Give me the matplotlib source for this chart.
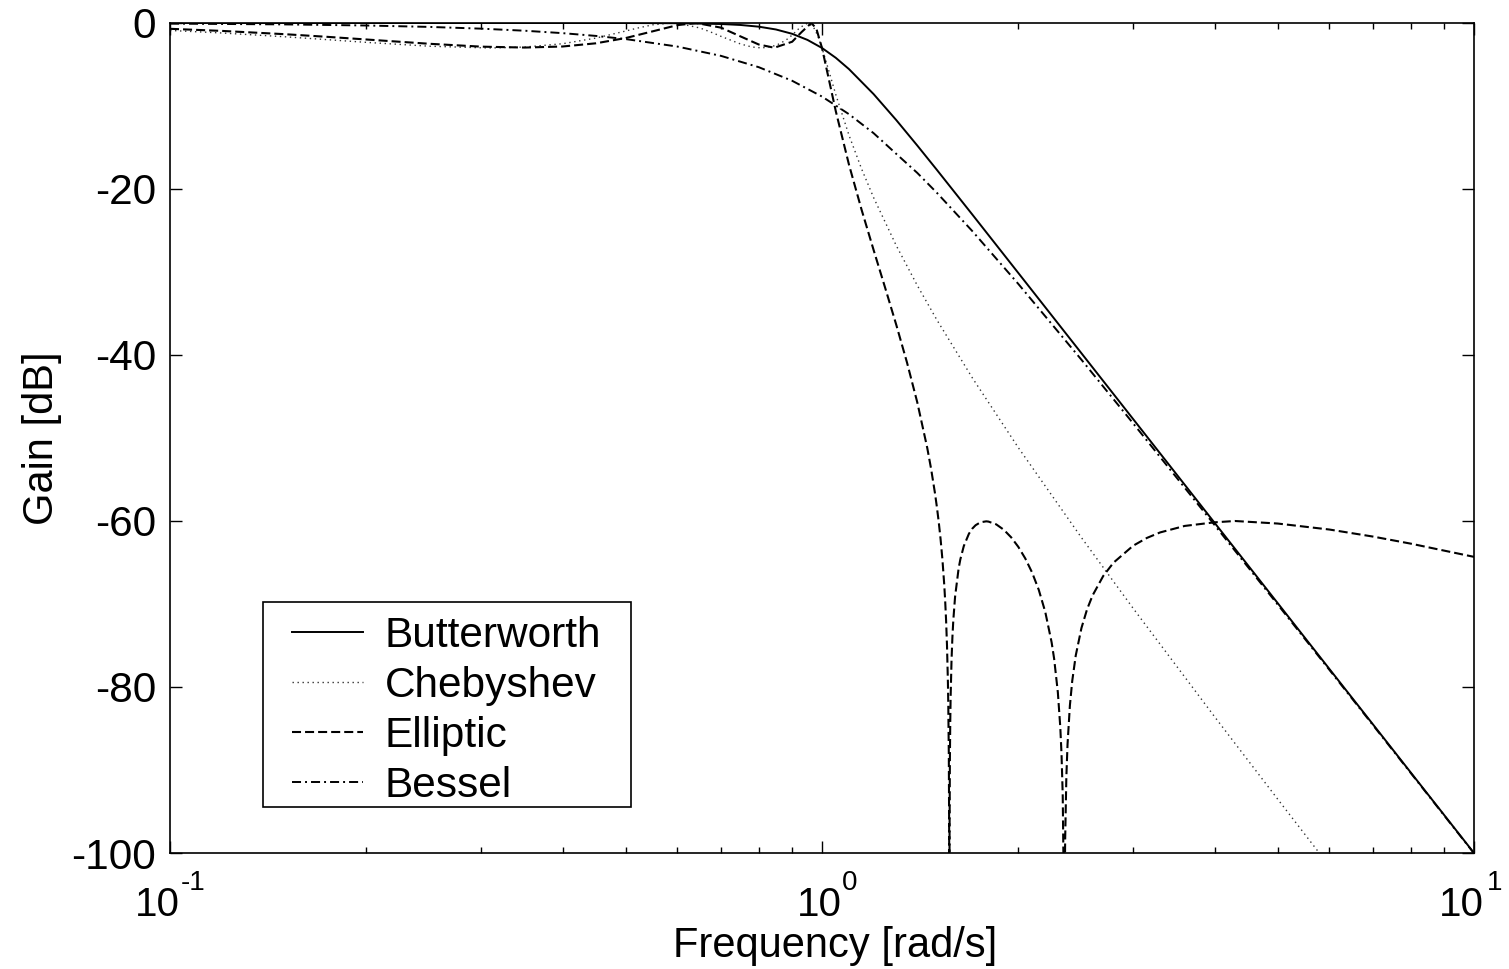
import matplotlib
matplotlib.use("Agg")
import matplotlib.pyplot as plt
from matplotlib.ticker import FixedLocator, NullFormatter, LogLocator
from matplotlib.patches import Rectangle

plt.rcParams['font.family'] = ['Liberation Sans', 'DejaVu Sans']
plt.rcParams['axes.unicode_minus'] = False
plt.rcParams['lines.scale_dashes'] = False

# ---- data ----
butter_f = [0.1, 0.2, 0.3, 0.4, 0.5, 0.6, 0.7, 0.75, 0.8, 0.85, 0.9, 0.95, 1.0, 1.05, 1.1,
            1.2, 1.3, 1.4, 1.5, 1.7, 2.0, 2.5, 3.0, 4.0, 5.0, 6.0, 7.0, 8.0, 10.0]
butter_db = [0.0, 0.0, 0.0, -0.0005, -0.004, -0.026, -0.121, -0.238, -0.443, -0.781, -1.301,
             -2.038, -3.010, -4.197, -5.556, -8.568, -11.698, -14.761, -17.684, -23.066,
             -30.11, -39.79, -47.71, -60.21, -69.90, -77.82, -84.51, -90.31, -100.0]

cheby_f = [0.1, 0.12, 0.15, 0.175, 0.2, 0.25, 0.309, 0.35, 0.4, 0.45, 0.5, 0.52, 0.55, 0.588,
           0.6, 0.65, 0.68, 0.7, 0.75, 0.78, 0.809, 0.85, 0.88, 0.9, 0.925, 0.951, 0.97,
           0.985, 1.0, 1.02, 1.05, 1.1, 1.15, 1.2, 1.3, 1.4, 1.5, 1.7, 2.0, 2.5, 3.0, 4.0,
           5.0, 6.0]
cheby_db = [-0.897, -1.201, -1.659, -2.016, -2.332, -2.797, -3.010, -2.898, -2.498, -1.818,
            -0.965, -0.630, -0.219, 0.0, -0.025, -0.601, -1.188, -1.608, -2.527, -2.887,
            -3.010, -2.711, -2.080, -1.454, -0.553, 0.0, -0.463, -1.513, -3.010, -5.268,
            -8.639, -13.522, -17.574, -21.040, -26.824, -31.617, -35.758, -42.740, -51.153,
            -62.004, -70.514, -83.573, -93.518, -101.57]

ellip_f = [0.1, 0.12, 0.15, 0.175, 0.2, 0.25, 0.3, 0.35, 0.4, 0.45, 0.5, 0.55, 0.6, 0.6416,
           0.7, 0.75, 0.8, 0.845, 0.9, 0.93, 0.9628, 0.98, 1.0, 1.02, 1.05, 1.1, 1.15, 1.2,
           1.25, 1.3, 1.35, 1.4, 1.45, 1.47, 1.49, 1.5, 1.51, 1.52, 1.53, 1.54, 1.545, 1.55,
           1.555, 1.56, 1.562, 1.565, 1.567, 1.568, 1.569, 1.571, 1.573, 1.575, 1.58, 1.585,
           1.59, 1.6, 1.62, 1.63, 1.65, 1.68, 1.7, 1.72, 1.75, 1.786, 1.8, 1.85, 1.9, 1.95,
           2.0, 2.05, 2.1, 2.15, 2.2, 2.25, 2.27, 2.3, 2.32, 2.33, 2.34, 2.35, 2.353, 2.356,
           2.36, 2.37, 2.38, 2.4, 2.42, 2.45, 2.5, 2.55, 2.6, 2.7, 2.8, 3.0, 3.15, 3.3, 3.6,
           4.0, 4.3, 5.0, 6.0, 7.0, 8.0, 10.0]
ellip_db = [-0.699, -0.951, -1.348, -1.677, -1.986, -2.504, -2.849, -2.959, -2.832, -2.446,
            -1.811, -1.003, -0.259, 0.0, -0.559, -1.616, -2.594, -2.980, -2.259, -1.108,
            0.0, -0.655, -3.012, -6.099, -10.638, -17.071, -22.496, -27.356, -31.916,
            -36.374, -40.897, -45.704, -51.172, -53.71, -56.61, -58.246, -60.07, -62.16,
            -64.629, -67.72, -69.64, -71.991, -75.03, -79.470, -82.06, -88.217, -97.89,
            -140.0, -97.84, -88.43, -84.09, -81.252, -76.787, -73.97, -71.95, -69.115,
            -65.73, -64.62, -63.019, -61.54, -60.925, -60.51, -60.156, -60.04, -60.07,
            -60.403, -61.051, -61.96, -63.106, -64.51, -66.204, -68.29, -70.953, -74.620,
            -76.59, -80.641, -84.86, -88.050, -93.06, -105.9, -140.0, -105.9, -98.54,
            -90.889, -86.93, -82.223, -79.26, -76.21, -72.890, -70.64, -68.972, -66.62,
            -65.015, -62.983, -62.04, -61.379, -60.594, -60.160, -60.0, -60.306, -61.027,
            -61.877, -62.730, -64.320]

bessel_f = [0.1, 0.15, 0.2, 0.25, 0.3, 0.35, 0.4, 0.45, 0.5, 0.6, 0.7, 0.8, 0.9, 1.0, 1.1,
            1.2, 1.3, 1.4, 1.5, 1.7, 2.0, 2.5, 3.0, 4.0, 5.0, 6.0, 7.0, 8.0, 10.0]
bessel_db = [-0.075, -0.169, -0.301, -0.471, -0.681, -0.931, -1.222, -1.556, -1.936, -2.839,
             -3.960, -5.326, -6.962, -8.862, -10.988, -13.276, -15.770, -18.060, -20.448,
             -25.064, -31.432, -40.573, -48.229, -60.48, -70.07, -77.93, -84.60, -90.375,
             -100.04]

series_names = ['Butterworth', 'Chebyshev', 'Elliptic', 'Bessel']
xtick_vals = [0.1, 1.0, 10.0]
xtick_base = ['10', '10', '10']
xtick_exp = ['-1', '0', '1']
ytick_vals = [0, -20, -40, -60, -80, -100]
ytick_labels = ['0', '-20', '-40', '-60', '-80', '-100']

# ---- figure ----
W, H = 1509, 969
fig = plt.figure(figsize=(W / 100, H / 100), dpi=100)
ax = fig.add_axes([170 / W, 1 - 853 / H, 1304 / W, 830 / H])

ax.plot(butter_f, butter_db, color='black', lw=1.4, ls='-', label=series_names[0])
ax.plot(cheby_f, cheby_db, color='#333333', lw=1.0, ls=(0, (1.0, 2.6)), label=series_names[1])
ax.plot(ellip_f, ellip_db, color='black', lw=1.5, ls=(0, (6.5, 2.9)), label=series_names[2])
ax.plot(bessel_f, bessel_db, color='black', lw=1.4, ls=(0, (6.5, 2.9, 1.4, 2.9)),
        label=series_names[3])

ax.set_xscale('log')
ax.set_xlim(0.1, 10)
ax.set_ylim(-100, 0)

ax.xaxis.set_major_locator(FixedLocator(xtick_vals))
ax.xaxis.set_major_formatter(NullFormatter())
ax.xaxis.set_minor_locator(LogLocator(base=10, subs=[2, 3, 4, 5, 6, 7, 8, 9]))
ax.xaxis.set_minor_formatter(NullFormatter())
ax.yaxis.set_major_locator(FixedLocator(ytick_vals))
ax.set_yticklabels(ytick_labels)

ax.tick_params(which='both', direction='in', top=True, right=True, width=1.0, colors='black')
ax.tick_params(which='major', length=8.6)
ax.tick_params(which='minor', length=4.3)
ax.tick_params(axis='y', which='major', labelsize=30.5, pad=10)

# x tick labels: "10" with raised exponent
base_dx = [10, 20, 10]
exp_dx = [11, 20, 13]
for v, b, e, bdx, edx in zip(xtick_vals, xtick_base, xtick_exp, base_dx, exp_dx):
    ax.annotate(b, xy=(v, 0), xycoords=('data', 'axes fraction'), xytext=(bdx, -63),
                textcoords='offset pixels', ha='right', va='baseline', fontsize=29,
                annotation_clip=False)
    ax.annotate(e, xy=(v, 0), xycoords=('data', 'axes fraction'), xytext=(edx, -37),
                textcoords='offset pixels', ha='left', va='baseline', fontsize=20,
                annotation_clip=False)

for sp in ax.spines.values():
    sp.set_linewidth(1.2)
    sp.set_color('black')

ax.set_xlabel('Frequency [rad/s]', fontsize=30)
ax.set_ylabel('Gain [dB]', fontsize=30)
ax.xaxis.set_label_coords(0.51, -0.0875)
ax.yaxis.set_label_coords(-0.083, 0.5)

# legend box
x0 = (263 - 170) / 1304
y0 = (853 - 807) / 830
bw = (631 - 263) / 1304
bh = (807 - 602) / 830
ax.add_patch(Rectangle((x0, y0), bw, bh, transform=ax.transAxes, fill=True,
                       facecolor='white', edgecolor='black', lw=1.2, zorder=5))
leg = ax.legend(loc='upper left', bbox_to_anchor=((292 - 170) / 1304, (853 - 616) / 830),
                borderaxespad=0, borderpad=0, frameon=False, fontsize=30.5,
                handlelength=1.67, handletextpad=0.52, labelspacing=0.235)
leg.set_zorder(6)

fig.savefig('out.png', dpi=100)
